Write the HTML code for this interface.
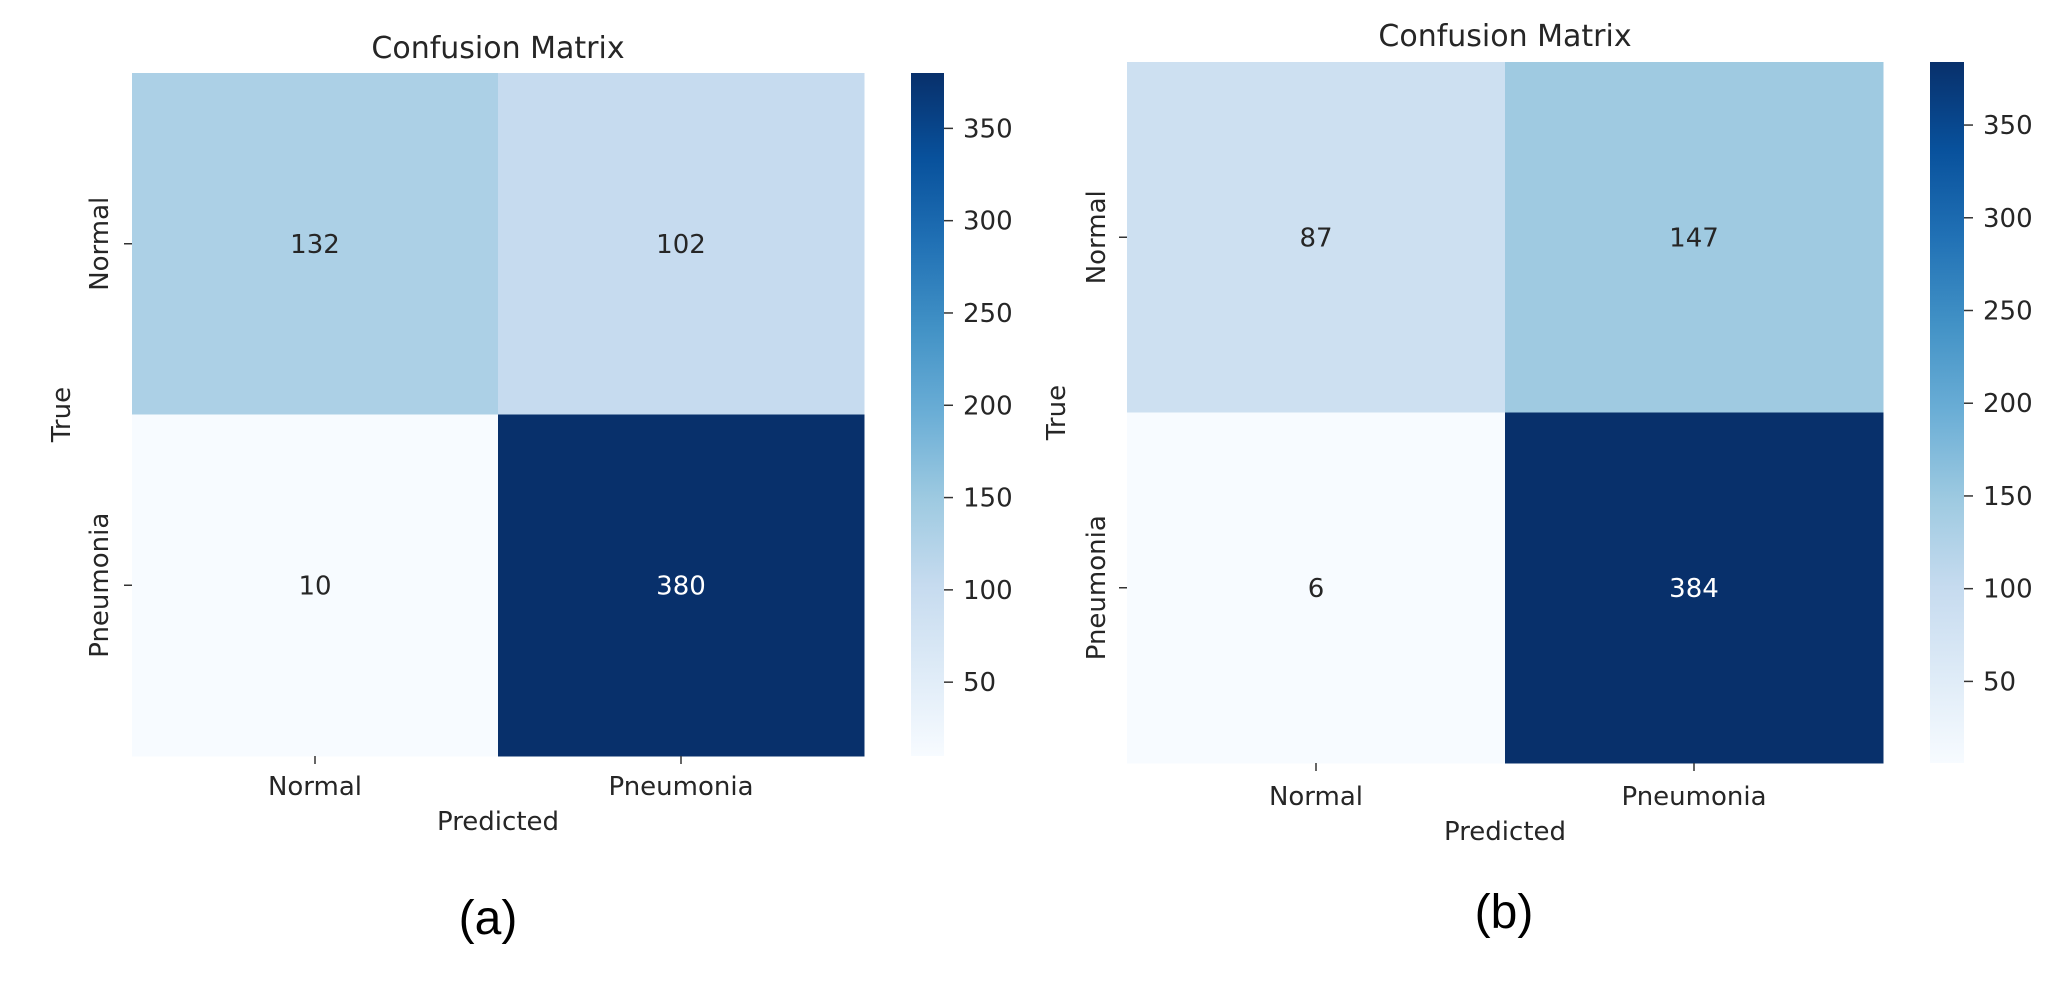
<!DOCTYPE html>
<html><head><meta charset="utf-8"><style>
html,body{margin:0;padding:0;background:#fff;}
svg{display:block;font-family:"DejaVu Sans","Liberation Sans",sans-serif;}
</style></head>
<body>
<svg id="fig" width="2066" height="986" viewBox="0 0 2066 986" xmlns="http://www.w3.org/2000/svg">
<defs>
<linearGradient id="blues" x1="0" y1="1" x2="0" y2="0">
<stop offset="0" stop-color="#f7fbff"/><stop offset="0.125" stop-color="#deebf7"/><stop offset="0.25" stop-color="#c6dbef"/><stop offset="0.375" stop-color="#9ecae1"/><stop offset="0.5" stop-color="#6baed6"/><stop offset="0.625" stop-color="#4292c6"/><stop offset="0.75" stop-color="#2171b5"/><stop offset="0.875" stop-color="#08519c"/><stop offset="1" stop-color="#08306b"/>
</linearGradient>
</defs>
</svg>
<script>
const classLabels = ["Normal", "Pneumonia"];
const valuesA = [[132, 102], [10, 380]];
const valuesB = [[87, 147], [6, 384]];
const cbTicks = [50, 100, 150, 200, 250, 300, 350];
const panelLabels = ["(a)", "(b)"];

const NS = "http://www.w3.org/2000/svg";
const svg = document.getElementById("fig");
const stops = ["#f7fbff","#deebf7","#c6dbef","#9ecae1","#6baed6","#4292c6","#2171b5","#08519c","#08306b"];
function hex(c){return [1,3,5].map(i=>parseInt(c.substr(i,2),16));}
function blues(t){
  t=Math.max(0,Math.min(1,t));
  const p=t*(stops.length-1), i=Math.min(Math.floor(p),stops.length-2), f=p-i;
  const a=hex(stops[i]), b=hex(stops[i+1]);
  return "rgb("+a.map((v,k)=>Math.round(v+(b[k]-v)*f)).join(",")+")";
}
function el(tag, attrs, parent){
  const e=document.createElementNS(NS,tag);
  for(const k in attrs) e.setAttribute(k,attrs[k]);
  (parent||svg).appendChild(e);
  return e;
}
function txt(s, attrs, parent){const e=el("text",attrs,parent);e.textContent=s;return e;}

const panels = [
  {vals: valuesA, x0:132, x1:864, y0:73, y1:756, cbx:911, cbw:33, titleY:47, ylabX:99, trueX:61, xtY:786, predY:821, capX:488, capY:918},
  {vals: valuesB, x0:1127, x1:1883, y0:62, y1:763, cbx:1930, cbw:34, titleY:35, ylabX:1096, trueX:1056, xtY:796, predY:831, capX:1504, capY:912}
];

panels.forEach((P, pi) => {
  const g = el("g", {});
  
  
  const flat = P.vals.flat();
  const vmin = Math.min(...flat), vmax = Math.max(...flat);
  const n = classLabels.length;
  const cw = (P.x1-P.x0)/n, ch = (P.y1-P.y0)/n;
  const xScale = j => P.x0 + cw*j;
  const yScale = i => P.y0 + ch*i;
  const cbY = v => P.y1 - (v - vmin)/(vmax - vmin)*(P.y1-P.y0);
  for (let i=0;i<n;i++) for (let j=0;j<n;j++){
    const v = P.vals[i][j], t=(v-vmin)/(vmax-vmin);
    const r = el("rect",{x:xScale(j),y:yScale(i),width:cw+0.5,height:ch+0.5,fill:blues(t)},g);
    
    
    const tx = txt(String(v),{x:xScale(j)+cw/2,y:yScale(i)+ch/2+9,"text-anchor":"middle","font-size":26,fill:t>0.5?"#ffffff":"#262626"},g);
    
    
  }
  // title
  const ti = txt("Confusion Matrix",{x:(P.x0+P.x1)/2,y:P.titleY+11,"text-anchor":"middle","font-size":30,fill:"#262626"},g);
  
  
  // y ticks
  for (let i=0;i<n;i++){
    const cy = yScale(i)+ch/2;
    el("line",{x1:P.x0-8,x2:P.x0,y1:cy,y2:cy,stroke:"#333","stroke-width":1.5},g);
    const yl = txt(classLabels[i],{x:P.ylabX+9,y:cy,"text-anchor":"middle","font-size":26,fill:"#262626",transform:"rotate(-90 "+(P.ylabX+9)+" "+cy+")"},g);
    
    
    const cx = xScale(i)+cw/2;
    el("line",{x1:cx,x2:cx,y1:P.y1,y2:P.y1+8,stroke:"#333","stroke-width":1.5},g);
    const xl = txt(classLabels[i],{x:cx,y:P.xtY+9,"text-anchor":"middle","font-size":26,fill:"#262626"},g);
    
    
  }
  const yt = txt("True",{x:P.trueX+9,y:(P.y0+P.y1)/2,"text-anchor":"middle","font-size":26,fill:"#262626",transform:"rotate(-90 "+(P.trueX+9)+" "+((P.y0+P.y1)/2)+")"},g);
  
  
  const xt = txt("Predicted",{x:(P.x0+P.x1)/2,y:P.predY+9,"text-anchor":"middle","font-size":26,fill:"#262626"},g);
  
  
  // colorbar
  const cb = el("rect",{x:P.cbx,y:P.y0,width:P.cbw,height:P.y1-P.y0,fill:"url(#blues)"},g);
  
  
  cbTicks.forEach(v=>{
    const y = cbY(v);
    el("line",{x1:P.cbx+P.cbw,x2:P.cbx+P.cbw+9,y1:y,y2:y,stroke:"#333","stroke-width":1.5},g);
    const tl = txt(String(v),{x:P.cbx+P.cbw+19,y:y+9,"font-size":26,fill:"#262626"},g);
    
    
  });
  const cap = txt(panelLabels[pi],{x:P.capX,y:P.capY+16,"text-anchor":"middle","font-size":48,fill:"#000","font-family":"Liberation Sans, sans-serif"},g);
  
  
});
</script>
</body></html>
